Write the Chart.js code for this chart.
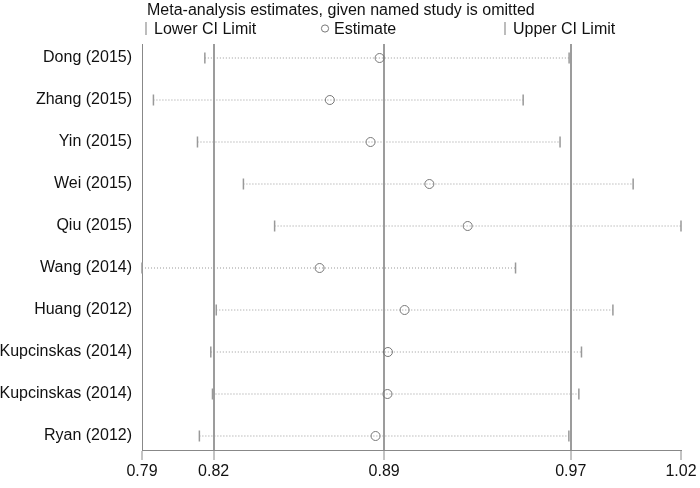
<!DOCTYPE html>
<html>
<head>
<meta charset="utf-8">
<script src="https://cdn.jsdelivr.net/npm/chart.js@4.4.1/dist/chart.umd.min.js"></script>
<style>
  body { margin: 0; background: #fff; }
  #wrap { position: relative; width: 700px; height: 488px; }
</style>
</head>
<body>
<div id="wrap"><canvas id="myChart"></canvas></div>
<script>
// data
var studies = ['Dong (2015)', 'Zhang (2015)', 'Yin (2015)', 'Wei (2015)', 'Qiu (2015)',
               'Wang (2014)', 'Huang (2012)', 'Kupcinskas (2014)', 'Kupcinskas (2014)', 'Ryan (2012)'];
var estimate = [0.8897, 0.8688, 0.8859, 0.9106, 0.9267, 0.8645, 0.9002, 0.8932, 0.8930, 0.8880];
var lowerCI  = [0.8163, 0.7947, 0.8132, 0.8325, 0.8456, 0.7899, 0.8211, 0.8188, 0.8195, 0.8140];
var upperCI  = [0.9693, 0.9500, 0.9655, 0.9962, 1.0163, 0.9468, 0.9877, 0.9745, 0.9734, 0.9692];
// overall lower CI, estimate, upper CI (the three vertical lines)
var overall = [0.82, 0.8916, 0.97];
// x ticks: axis min, overall values, axis max
var tickValues = [0.7899, 0.82, 0.8916, 0.97, 1.0163];

var titleText = 'Meta-analysis estimates, given named study is omitted';
var legendLabels = ['Lower CI Limit', 'Estimate', 'Upper CI Limit'];

Chart.defaults.font.family = '"Liberation Sans", Arial, sans-serif';
Chart.defaults.font.size = 16;
Chart.defaults.color = '#111';

var datasets = [];
for (var i = 0; i < studies.length; i++) {
	datasets.push({
		label: studies[i],
		data: [{x: lowerCI[i], y: i + 1}, {x: upperCI[i], y: i + 1}],
		showLine: true,
		borderColor: '#999',
		borderWidth: 1,
		borderDash: [1, 2],
		pointStyle: 'line',
		pointRotation: 90,
		pointRadius: 5.5,
		pointBorderColor: '#999',
		pointBorderWidth: 1.5,
		clip: false
	});
}
datasets.push({
	label: 'Estimate',
	data: estimate.map(function(v, i){ return {x: v, y: i + 1}; }),
	pointStyle: 'circle',
	pointRadius: 4.5,
	pointBorderColor: '#777',
	pointBorderWidth: 1,
	pointBackgroundColor: 'rgba(0,0,0,0)',
	showLine: false,
	clip: false
});

// title + legend row at fixed places like the original
var headerPlugin = {
	id: 'header',
	afterDraw: function(chart){
		var ctx = chart.ctx;
		ctx.save();
		ctx.font = '16px "Liberation Sans", Arial, sans-serif';
		ctx.fillStyle = '#111';
		ctx.textBaseline = 'alphabetic';
		ctx.fillText(titleText, 147, 15);

		ctx.strokeStyle = '#999';
		ctx.lineWidth = 1.3;
		// lower
		ctx.beginPath(); ctx.moveTo(146, 22); ctx.lineTo(146, 35); ctx.stroke();
		ctx.fillText(legendLabels[0], 154, 34);
		// estimate
		ctx.strokeStyle = '#777';
		ctx.lineWidth = 1;
		ctx.beginPath(); ctx.arc(325, 28.5, 3.6, 0, Math.PI * 2); ctx.stroke();
		ctx.fillText(legendLabels[1], 334, 34);
		// upper
		ctx.strokeStyle = '#999';
		ctx.lineWidth = 1.3;
		ctx.beginPath(); ctx.moveTo(505, 22); ctx.lineTo(505, 35); ctx.stroke();
		ctx.fillText(legendLabels[2], 513, 34);
		ctx.restore();
	}
};

var ctx = document.getElementById('myChart');
var myChart = new Chart(ctx, {
	type: 'scatter',
	data: { datasets: datasets },
	options: {
		responsive: true,
		maintainAspectRatio: false,
		animation: false,
		devicePixelRatio: 1,
		layout: { padding: { top: 44, right: 19, left: 0, bottom: 0 } },
		plugins: {
			legend: { display: false },
			title: { display: false },
			tooltip: { enabled: false }
		},
		scales: {
			x: {
				type: 'linear',
				min: tickValues[0],
				max: tickValues[tickValues.length - 1],
				afterBuildTicks: function(axis){
					axis.ticks = tickValues.map(function(v){ return {value: v}; });
				},
				afterFit: function(axis){ axis.height = 38; },
				ticks: {
					autoSkip: false,
					maxRotation: 0,
					padding: 2,
					callback: function(v){ return v.toFixed(2); }
				},
				grid: {
					drawOnChartArea: true,
					color: function(c){
						if (c.tick && overall.indexOf(c.tick.value) >= 0) return '#9c9c9c';
						return 'rgba(0,0,0,0)';
					},
					lineWidth: 2,
					tickColor: '#888',
					tickWidth: 1,
					tickLength: 10
				},
				border: { display: true, color: '#888', width: 1 }
			},
			y: {
				type: 'linear',
				reverse: true,
				min: 2 / 3,
				max: 10 + 1 / 3,
				afterBuildTicks: function(axis){
					axis.ticks = studies.map(function(s, i){ return {value: i + 1}; });
				},
				afterFit: function(axis){ axis.width = 142; },
				ticks: {
					autoSkip: false,
					padding: 10,
					callback: function(v){ return studies[v - 1]; }
				},
				grid: { display: false, drawTicks: false },
				border: { display: true, color: '#888', width: 1 }
			}
		}
	},
	plugins: [headerPlugin]
});
</script>
</body>
</html>
